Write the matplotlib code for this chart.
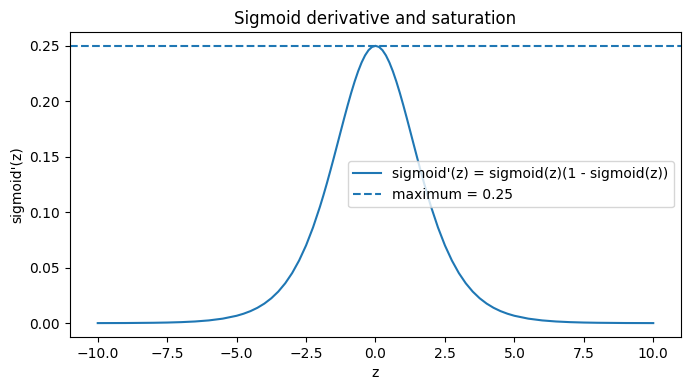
import matplotlib
matplotlib.use("Agg")
import matplotlib.pyplot as plt

# values (right half, z >= 0)
z_pos = [0.0, 0.125, 0.25, 0.375, 0.5, 0.625, 0.75, 0.875, 1.0, 1.125, 1.25,
         1.375, 1.5, 1.625, 1.75, 1.875, 2.0, 2.25, 2.5, 2.75, 3.0, 3.25,
         3.5, 3.75, 4.0, 4.25, 4.5, 4.75, 5.0, 5.5, 6.0, 6.5, 7.0, 7.5,
         8.0, 9.0, 10.0]
d_pos = [0.25, 0.24902, 0.24613, 0.24141, 0.23500, 0.22710, 0.21789,
         0.20766, 0.19661, 0.18502, 0.17310, 0.16109, 0.14915, 0.13747,
         0.12612, 0.11528, 0.10499, 0.08623, 0.07007, 0.05649, 0.04518,
         0.03594, 0.02845, 0.02245, 0.01766, 0.01386, 0.01086, 0.00851,
         0.00665, 0.00407, 0.00247, 0.00150, 0.00091, 0.00055, 0.00034,
         0.00012, 0.00005]
# left half mirrors the right half in the picture
z_neg = [-v for v in z_pos[1:]]
d_neg = d_pos[1:]
max_val = 0.25

z = z_neg[::-1] + z_pos
dsig = d_neg[::-1] + d_pos

fig, ax = plt.subplots(figsize=(6.9, 3.9), dpi=100)
ax.plot(z, dsig, label="sigmoid'(z) = sigmoid(z)(1 - sigmoid(z))")
ax.axhline(max_val, linestyle="--", label=f"maximum = {max_val}")
ax.set_title("Sigmoid derivative and saturation")
ax.set_xlabel("z")
ax.set_ylabel("sigmoid'(z)")
ax.legend(loc="center right")
fig.subplots_adjust(left=0.1014, right=0.987, top=0.918, bottom=0.136)
fig.savefig("out.png", dpi=100)
